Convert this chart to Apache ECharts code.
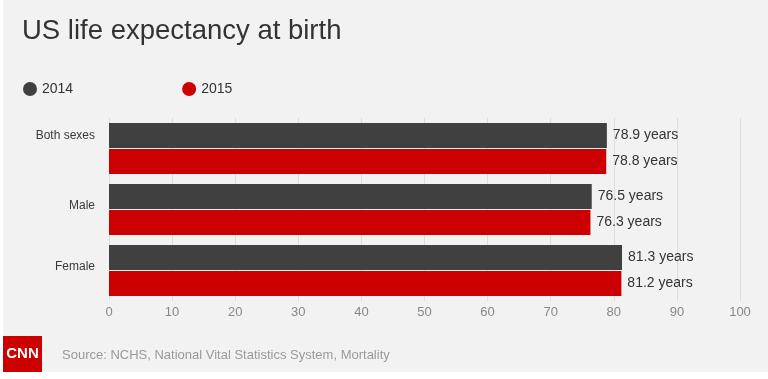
<!DOCTYPE html>
<html>
<head>
<meta charset="utf-8">
<script src="https://cdn.jsdelivr.net/npm/echarts@6/dist/echarts.min.js"></script>
<style>
html,body{margin:0;padding:0;background:#ffffff;}
#chart{width:768px;height:379px;}
</style>
</head>
<body>
<div id="chart"></div>
<script>
const categories = ['Both sexes', 'Male', 'Female'];
const values2014 = [78.9, 76.5, 81.3];
const values2015 = [78.8, 76.3, 81.2];
const seriesNames = ['2014', '2015'];
const xTicks = [0, 10, 20, 30, 40, 50, 60, 70, 80, 90, 100];
const titleText = 'US life expectancy at birth';
const sourceText = 'Source: NCHS, National Vital Statistics System, Mortality';

// style only: extra bottom padding that lifts each category label above its band centre
const labelLiftPx = [26, 8, 8];

const chart = echarts.init(document.getElementById('chart'), null, {renderer: 'canvas'});
const FONT = 'Arial, "Liberation Sans", Helvetica, sans-serif';

const rich = {};
labelLiftPx.forEach((p, i) => {
  rich['l' + i] = {fontSize: 12, color: '#3a3a3a', fontFamily: FONT, padding: [0, 0, p, 0]};
});

chart.setOption({
  animation: false,
  textStyle: {fontFamily: FONT},
  graphic: [
    {type: 'rect', z: -10, shape: {x: 3, y: 0, width: 765, height: 372}, style: {fill: '#f2f2f2'}},
    {type: 'rect', z: 10, shape: {x: 3, y: 336, width: 39, height: 36}, style: {fill: '#cc0000'}},
    {type: 'text', z: 11, x: 22.5, y: 354, style: {text: 'CNN', fill: '#ffffff', font: 'bold 15px ' + FONT, align: 'center', verticalAlign: 'middle'}},
    {type: 'text', z: 11, x: 62, y: 355, style: {text: sourceText, fill: '#9a9a9a', font: '13px ' + FONT, align: 'left', verticalAlign: 'middle'}}
  ],
  title: {
    text: titleText,
    left: 17,
    top: 12,
    textStyle: {fontSize: 27.5, fontWeight: 'normal', color: '#333333', fontFamily: FONT}
  },
  legend: {
    data: seriesNames,
    left: 18,
    top: 77,
    icon: 'circle',
    itemWidth: 14,
    itemHeight: 14,
    itemGap: 109,
    textStyle: {fontSize: 14, color: '#333333'}
  },
  grid: {left: 109, right: 28, top: 118, height: 183, containLabel: false},
  xAxis: {
    type: 'value',
    min: xTicks[0],
    max: xTicks[xTicks.length - 1],
    interval: xTicks[1] - xTicks[0],
    axisLine: {show: false},
    axisTick: {show: false},
    axisLabel: {fontSize: 13, color: '#888888', margin: 5},
    splitLine: {show: true, lineStyle: {color: '#dddddd', width: 1}}
  },
  yAxis: {
    type: 'category',
    data: categories,
    inverse: true,
    axisLine: {show: false},
    axisTick: {show: false},
    axisLabel: {
      fontSize: 12, color: '#3a3a3a', margin: 14,
      formatter: (v, i) => '{l' + i + '|' + v + '}',
      rich: rich
    }
  },
  series: [
    {
      name: seriesNames[0],
      type: 'bar',
      data: values2014,
      barGap: '4%',
      barCategoryGap: '16%',
      itemStyle: {color: '#404040'},
      label: {show: true, position: 'right', distance: 6, fontSize: 14, color: '#333333', formatter: '{c} years'}
    },
    {
      name: seriesNames[1],
      type: 'bar',
      data: values2015,
      barGap: '4%',
      barCategoryGap: '16%',
      itemStyle: {color: '#cc0000'},
      label: {show: true, position: 'right', distance: 6, fontSize: 14, color: '#333333', formatter: '{c} years'}
    }
  ]
});
</script>
</body>
</html>
